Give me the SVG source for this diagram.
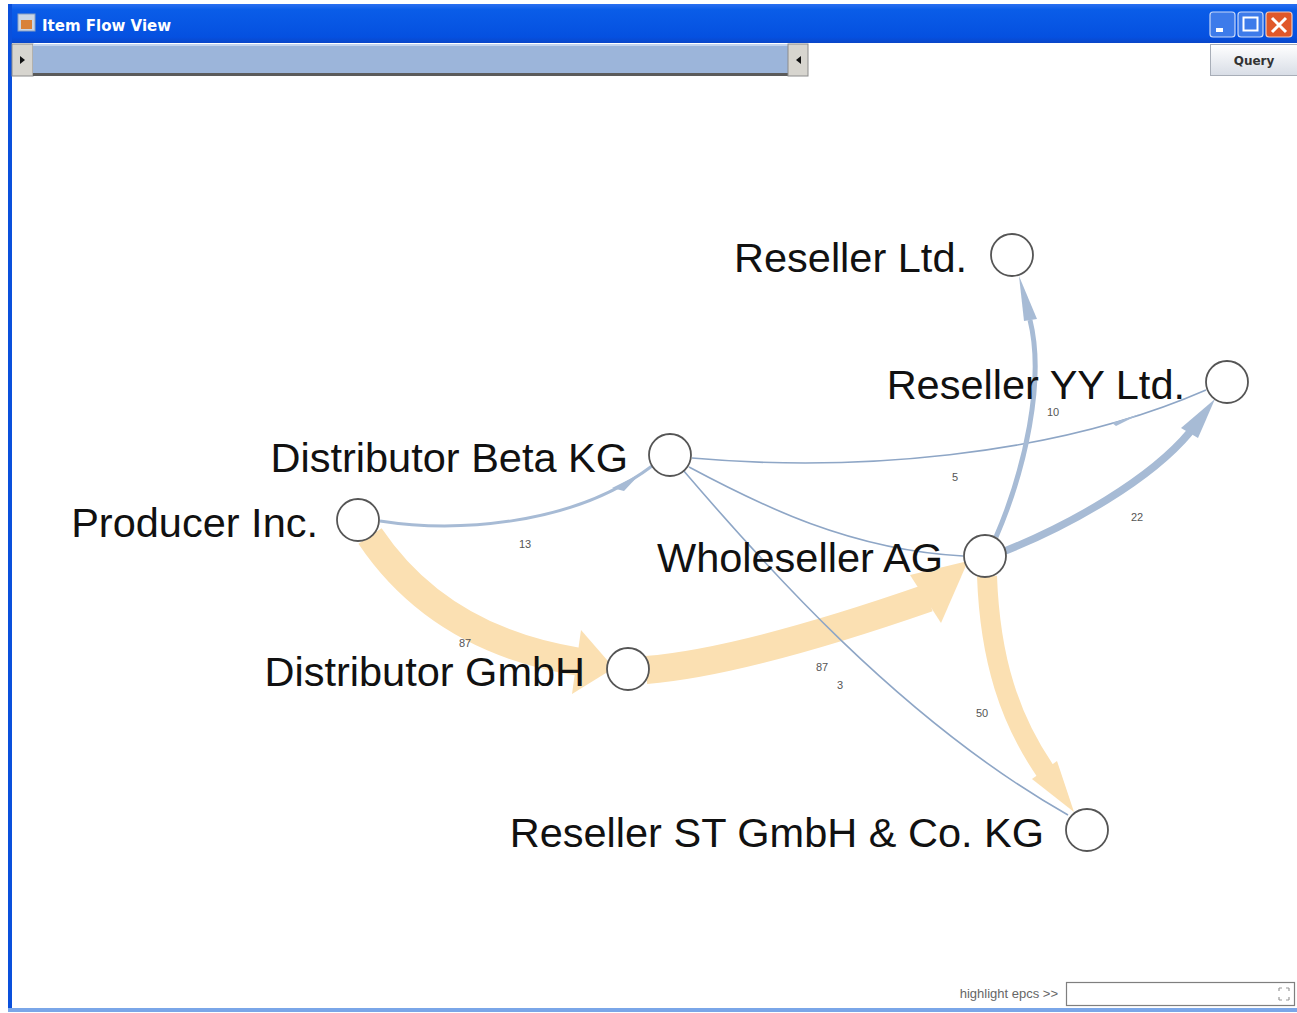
<svg xmlns="http://www.w3.org/2000/svg" width="1297" height="1013" viewBox="0 0 1297 1013">
<defs>
<linearGradient id="tb" x1="0" y1="0" x2="0" y2="1">
<stop offset="0" stop-color="#2a6ff0"/>
<stop offset="0.15" stop-color="#0a5de8"/>
<stop offset="0.85" stop-color="#0550e0"/>
<stop offset="1" stop-color="#0a46c8"/>
</linearGradient>
<linearGradient id="qb" x1="0" y1="0" x2="0" y2="1">
<stop offset="0" stop-color="#ffffff"/>
<stop offset="1" stop-color="#d8dde6"/>
</linearGradient>
<style>
.lbl{font-family:"Liberation Sans",Arial,sans-serif;font-size:41.5px;fill:#111;text-anchor:end}
.num{font-family:"Liberation Sans",Arial,sans-serif;font-size:11px;fill:#555;text-anchor:middle}
.node{fill:#fff;stroke:#555;stroke-width:1.8}
.org{fill:none;stroke:#fbe0b2;stroke-linecap:butt}
.orgh{fill:#fbe0b2}
.blu{fill:none;stroke:#a7bbd5}
.bluh{fill:#a7bbd5}
.thin{fill:none;stroke:#8ea6c6;stroke-width:1.6}
</style>
</defs>
<rect x="0" y="0" width="1297" height="1013" fill="#ffffff"/>
<!-- window chrome -->
<g id="window">
<rect x="8" y="4" width="1289" height="39" fill="url(#tb)"/>
<rect x="8" y="4" width="4" height="1008" fill="#0a50dc"/>
<rect x="8" y="1008" width="1289" height="4" fill="#7aa6e8"/>
<rect x="18" y="14" width="17" height="17" fill="#c9d6e6" stroke="#8aa0c0" stroke-width="1"/>
<rect x="21" y="20" width="11" height="9" fill="#d9823a"/>
<text x="42" y="31" font-family="Tahoma,'DejaVu Sans',sans-serif" font-weight="bold" font-size="15" fill="#ffffff">Item Flow View</text>
<rect x="1210" y="12" width="25" height="25" rx="3" fill="#3d7bea" stroke="#c8d8f8" stroke-width="1.2"/>
<rect x="1216" y="28" width="7" height="4" fill="#ffffff"/>
<rect x="1238" y="12" width="25" height="25" rx="3" fill="#3d7bea" stroke="#c8d8f8" stroke-width="1.2"/>
<rect x="1243.5" y="17.5" width="14" height="13" fill="none" stroke="#ffffff" stroke-width="2"/>
<rect x="1266" y="12" width="26" height="25" rx="3" fill="#e0582a" stroke="#f4c8b8" stroke-width="1.2"/>
<path d="M1272,18 L1286,32 M1286,18 L1272,32" stroke="#ffffff" stroke-width="3"/>
<!-- toolbar -->
<rect x="12" y="43" width="1285" height="35" fill="#ffffff"/>
<rect x="12" y="44" width="21" height="32" fill="#d7d5cf" stroke="#8c8c8c" stroke-width="1"/>
<path d="M20,56 L25,60 L20,64 Z" fill="#111"/>
<rect x="33" y="44" width="755" height="30" fill="#9cb5da"/>
<rect x="33" y="44" width="755" height="2" fill="#c4d4ec"/>
<rect x="33" y="73" width="755" height="3" fill="#5b5b5b"/>
<rect x="788" y="44" width="20" height="32" fill="#d7d5cf" stroke="#8c8c8c" stroke-width="1"/>
<path d="M801,56 L796,60 L801,64 Z" fill="#111"/>
<rect x="1210.5" y="44.5" width="88" height="31" fill="url(#qb)" stroke="#a8aeb8" stroke-width="1"/>
<text x="1254" y="65" font-family="Tahoma,'DejaVu Sans',sans-serif" font-weight="bold" font-size="12" fill="#333" text-anchor="middle">Query</text>
<!-- bottom -->
<text x="1058" y="998" font-family="'Liberation Sans',Arial,sans-serif" font-size="13" fill="#666" text-anchor="end">highlight epcs &gt;&gt;</text>
<rect x="1066.5" y="982.5" width="228" height="23" fill="#ffffff" stroke="#7f7f7f" stroke-width="1.2"/>
<path d="M1279,988 h3 M1286,988 h3 M1279,1000 h3 M1286,1000 h3 M1279,988 v3 M1289,988 v3 M1279,997 v3 M1289,997 v3" stroke="#999" stroke-width="1.2" fill="none"/>
</g>
<!-- connectors -->
<g id="connectors">
<!-- Producer -> Distributor GmbH (87) -->
<path class="org" stroke-width="28" d="M370,536 Q 440,640 580,662"/>
<polygon class="orgh" points="581,630 614,668 572,694"/>
<!-- Distributor GmbH -> Wholeseller AG (87) -->
<path class="org" stroke-width="28" d="M646,670 C 720,664 830,632 928,598"/>
<polygon class="orgh" points="910,575 968,561 941,623"/>
<!-- Wholeseller AG -> Reseller ST (50) -->
<path class="org" stroke-width="20" d="M987,576 C 990,660 1010,720 1046,772"/>
<polygon class="orgh" points="1032,779 1057,761 1074,812"/>
<!-- Producer -> Distributor Beta KG (13) -->
<path class="blu" stroke-width="3" d="M380,521 C 450,532 570,528 652,466"/>
<polygon class="bluh" points="612,488 640,474 624,491"/>
<!-- Distributor Beta KG -> Reseller YY Ltd. (5) -->
<path class="thin" d="M692,458 C 850,472 1050,458 1206,390"/>
<polygon class="bluh" points="1112,423 1140,414 1116,426"/>
<!-- Distributor Beta KG -> Wholeseller AG -->
<path class="thin" d="M689,467 C 760,505 850,550 963,556"/>
<!-- Distributor Beta KG -> Reseller ST (3) -->
<path class="thin" d="M683,470 C 760,560 900,720 1068,815"/>
<!-- Wholeseller AG -> Reseller Ltd. (10) -->
<path class="blu" stroke-width="5" d="M996,537 C 1025,470 1045,380 1030,320"/>
<polygon class="bluh" points="1024,321 1037,319 1019,276"/>
<!-- Wholeseller AG -> Reseller YY Ltd. (22) -->
<path class="blu" stroke-width="7.5" d="M1005,551 C 1070,525 1150,480 1190,432"/>
<polygon class="bluh" points="1181,428 1198,438 1215,399"/>
<text class="num" x="465" y="647">87</text>
<text class="num" x="525" y="548">13</text>
<text class="num" x="822" y="671">87</text>
<text class="num" x="840" y="689">3</text>
<text class="num" x="982" y="717">50</text>
<text class="num" x="955" y="481">5</text>
<text class="num" x="1053" y="416">10</text>
<text class="num" x="1137" y="521">22</text>
</g>
<!-- nodes -->
<g id="n-reseller-ltd"><circle class="node" cx="1012" cy="255" r="21"/><text class="lbl" x="967" y="272">Reseller Ltd.</text></g>
<g id="n-reseller-yy"><circle class="node" cx="1227" cy="382" r="21"/><text class="lbl" x="1185" y="399">Reseller YY Ltd.</text></g>
<g id="n-distributor-beta"><circle class="node" cx="670" cy="455" r="21"/><text class="lbl" x="628" y="472">Distributor Beta KG</text></g>
<g id="n-producer"><circle class="node" cx="358" cy="520" r="21"/><text class="lbl" x="318" y="537">Producer Inc.</text></g>
<g id="n-wholeseller"><circle class="node" cx="985" cy="556" r="21"/><text class="lbl" x="943" y="572">Wholeseller AG</text></g>
<g id="n-distributor-gmbh"><circle class="node" cx="628" cy="669" r="21"/><text class="lbl" x="585" y="686">Distributor GmbH</text></g>
<g id="n-reseller-st"><circle class="node" cx="1087" cy="830" r="21"/><text class="lbl" x="1044" y="847">Reseller ST GmbH &amp; Co. KG</text></g>
</svg>
